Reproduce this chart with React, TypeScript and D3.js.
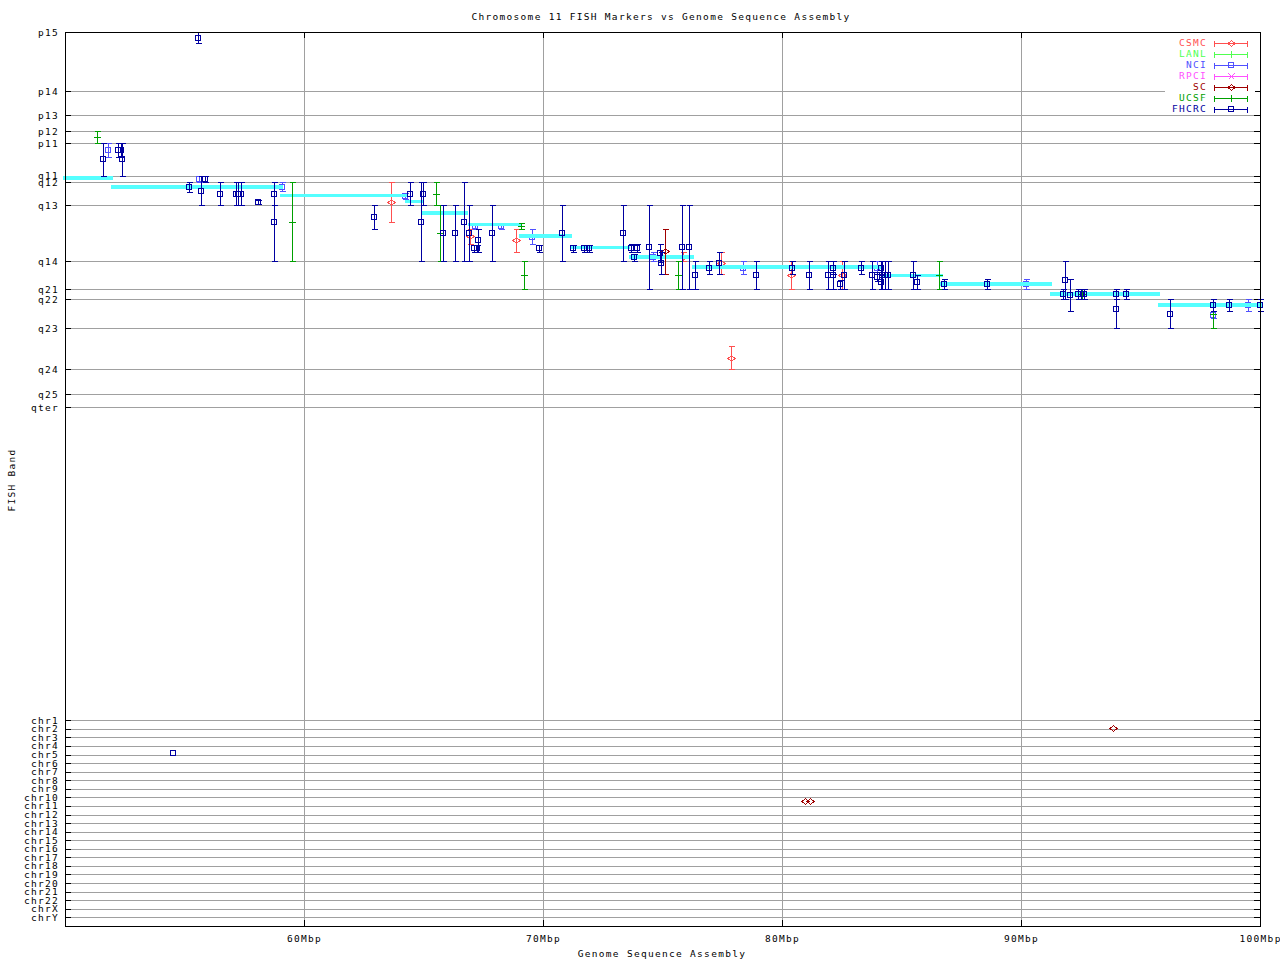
import React from 'react';
import * as d3 from 'd3';

// ---------- data ----------
const sources = ['CSMC', 'LANL', 'NCI', 'RPCI', 'SC', 'UCSF', 'FHCRC'];
const sourceColors = ['#ff5050', '#50ff50', '#5050ff', '#ff50ff', '#a00000', '#00a000', '#0000a0'];
const sourceSymbols = ['diamond', 'plus', 'square', 'cross', 'diamond', 'plus', 'square'];
const drawOrder = ['CSMC', 'LANL', 'NCI', 'RPCI', 'ASSEMBLY', 'SC', 'UCSF', 'FHCRC'];

// cytogenetic band axis (relative band coordinate, pter=0 .. qter=100)
const bandLabels = ['p15', 'p14', 'p13', 'p12', 'p11', 'q11', 'q12', 'q13', 'q14', 'q21', 'q22', 'q23', 'q24', 'q25', 'qter'];
const bandPositions = [0, 15.7, 22.1, 26.4, 29.6, 38.2, 40.0, 46.1, 61.0, 68.5, 71.2, 78.9, 89.8, 96.5, 100];

const chromosomes = ['chr1', 'chr2', 'chr3', 'chr4', 'chr5', 'chr6', 'chr7', 'chr8', 'chr9', 'chr10', 'chr11', 'chr12',
  'chr13', 'chr14', 'chr15', 'chr16', 'chr17', 'chr18', 'chr19', 'chr20', 'chr21', 'chr22', 'chrX', 'chrY'];

const xTicks = [60, 70, 80, 90, 100];

// assembly band spans: [startMbp, endMbp, band coordinate]
const assemblySpans: [number, number, number][] = [
  [49.92, 52.0, 38.85], [51.92, 59.12, 41.2], [59.0, 64.31, 43.5], [64.23, 64.98, 45.17],
  [64.95, 66.85, 48.2], [66.87, 69.07, 51.3], [69.0, 71.2, 54.24], [71.16, 73.64, 57.4],
  [73.6, 76.32, 59.97], [76.23, 84.17, 62.53], [84.17, 86.72, 64.8], [86.6, 91.28, 67.07],
  [91.21, 95.82, 69.79], [95.72, 100.1, 72.77],
];

// band markers: [source, Mbp, band, bandLow, bandHigh]
const csmcMarkers: [string, number, number, number, number][] = [
  ['CSMC', 63.65, 45.33, 40.0, 50.67], ['CSMC', 66.93, 54.32, 52.53, 56.45],
  ['CSMC', 68.88, 55.47, 52.53, 58.59], ['CSMC', 75.87, 59.84, 58.67, 61.0],
  ['CSMC', 77.45, 61.6, 58.67, 64.53], ['CSMC', 77.87, 86.93, 83.73, 89.87],
  ['CSMC', 80.38, 64.8, 61.0, 68.53], ['CSMC', 82.52, 64.8, 61.0, 68.53],
];
const nciMarkers: [string, number, number, number, number][] = [
  ['NCI', 51.81, 31.47, 29.6, 33.33], ['NCI', 55.59, 39.1, 38.2, 40.0],
  ['NCI', 59.07, 41.33, 40.0, 42.32], ['NCI', 64.23, 43.6, 42.77, 44.45],
  ['NCI', 67.17, 51.6, 50.77, 52.53], ['NCI', 68.26, 51.6, 50.77, 52.53],
  ['NCI', 69.55, 54.5, 52.53, 56.45], ['NCI', 74.62, 59.84, 58.67, 61.0],
  ['NCI', 78.38, 62.76, 61.0, 64.53], ['NCI', 83.99, 62.76, 61.0, 64.53],
  ['NCI', 90.22, 67.2, 65.87, 68.53], ['NCI', 98.05, 75.31, 74.32, 76.19],
  ['NCI', 99.51, 72.76, 71.2, 74.32],
];
const scMarkers: [string, number, number, number, number][] = [
  ['SC', 75.09, 58.4, 52.53, 64.53],
];
const ucsfMarkers: [string, number, number, number, number][] = [
  ['UCSF', 51.35, 28.0, 26.4, 29.6], ['UCSF', 59.48, 50.5, 40.0, 61.0],
  ['UCSF', 65.54, 43.07, 40.0, 46.13], ['UCSF', 65.7, 53.55, 46.13, 61.0],
  ['UCSF', 69.07, 51.6, 50.77, 52.53], ['UCSF', 69.22, 64.8, 61.0, 68.53],
  ['UCSF', 75.66, 64.8, 61.0, 68.53], ['UCSF', 86.56, 64.8, 61.0, 68.53],
  ['UCSF', 92.54, 69.8, 68.53, 71.2], ['UCSF', 98.05, 75.07, 71.2, 78.93],
];
const fhcrcMarkers: [string, number, number, number, number][] = [
  ['FHCRC', 51.58, 33.87, 29.6, 38.2], ['FHCRC', 52.23, 31.47, 29.6, 33.33],
  ['FHCRC', 52.36, 31.47, 29.6, 33.33], ['FHCRC', 52.4, 33.87, 29.6, 38.2],
  ['FHCRC', 55.58, 1.44, 0, 2.93], ['FHCRC', 55.2, 41.33, 40.0, 42.67],
  ['FHCRC', 55.7, 42.19, 38.2, 46.13], ['FHCRC', 55.86, 39.1, 38.2, 40.0],
  ['FHCRC', 56.49, 43.07, 40.0, 46.13], ['FHCRC', 57.14, 43.07, 40.0, 46.13],
  ['FHCRC', 57.23, 43.07, 40.0, 46.13], ['FHCRC', 57.38, 43.07, 40.0, 46.13],
  ['FHCRC', 58.09, 45.33, 44.72, 45.87], ['FHCRC', 58.76, 43.07, 40.0, 46.13],
  ['FHCRC', 58.76, 50.5, 40.0, 61.0], ['FHCRC', 62.94, 49.33, 46.13, 52.53],
  ['FHCRC', 64.45, 43.07, 40.0, 46.13], ['FHCRC', 64.91, 50.5, 40.0, 61.0],
  ['FHCRC', 64.99, 43.07, 40.0, 46.13], ['FHCRC', 65.82, 53.55, 46.13, 61.0],
  ['FHCRC', 66.33, 53.55, 46.13, 61.0], ['FHCRC', 66.71, 50.5, 40.0, 61.0],
  ['FHCRC', 66.89, 53.55, 46.13, 61.0], ['FHCRC', 67.11, 57.52, 56.72, 58.51],
  ['FHCRC', 67.23, 57.52, 56.72, 58.51], ['FHCRC', 67.29, 55.47, 52.53, 58.59],
  ['FHCRC', 67.88, 53.55, 46.13, 61.0], ['FHCRC', 69.85, 57.52, 56.72, 58.51],
  ['FHCRC', 70.81, 53.55, 46.13, 61.0], ['FHCRC', 71.27, 57.52, 56.72, 58.51],
  ['FHCRC', 71.72, 57.52, 56.72, 58.51], ['FHCRC', 71.83, 57.52, 56.72, 58.51],
  ['FHCRC', 71.94, 57.52, 56.72, 58.51], ['FHCRC', 73.36, 53.55, 46.13, 61.0],
  ['FHCRC', 73.68, 57.52, 56.53, 58.51], ['FHCRC', 73.82, 60.0, 59.12, 61.0],
  ['FHCRC', 73.95, 57.52, 56.53, 58.51], ['FHCRC', 74.45, 57.33, 46.13, 68.53],
  ['FHCRC', 74.9, 58.85, 56.53, 61.17], ['FHCRC', 74.95, 61.6, 58.67, 64.53],
  ['FHCRC', 75.83, 57.33, 46.13, 68.53], ['FHCRC', 76.12, 57.33, 46.13, 68.53],
  ['FHCRC', 76.37, 64.8, 61.0, 68.53], ['FHCRC', 76.96, 62.76, 61.0, 64.53],
  ['FHCRC', 77.38, 61.6, 58.67, 64.53], ['FHCRC', 78.92, 64.8, 61.0, 68.53],
  ['FHCRC', 80.43, 62.76, 61.0, 64.53], ['FHCRC', 81.14, 64.8, 61.0, 68.53],
  ['FHCRC', 81.94, 64.8, 61.0, 68.53], ['FHCRC', 82.12, 64.8, 61.0, 68.53],
  ['FHCRC', 82.12, 62.76, 61.0, 64.53], ['FHCRC', 82.44, 67.2, 65.97, 68.45],
  ['FHCRC', 82.61, 64.8, 61.0, 68.53], ['FHCRC', 83.29, 62.76, 61.0, 64.53],
  ['FHCRC', 83.75, 64.8, 61.0, 68.53], ['FHCRC', 83.99, 65.2, 64.0, 66.4],
  ['FHCRC', 84.14, 62.76, 61.0, 64.53], ['FHCRC', 84.14, 66.67, 64.8, 68.53],
  ['FHCRC', 84.2, 64.8, 61.0, 68.53], ['FHCRC', 84.31, 64.8, 61.0, 68.53],
  ['FHCRC', 84.42, 64.8, 61.0, 68.53], ['FHCRC', 85.49, 64.8, 61.0, 68.53],
  ['FHCRC', 85.66, 66.67, 64.8, 68.53], ['FHCRC', 86.79, 67.2, 65.87, 68.53],
  ['FHCRC', 88.59, 67.2, 65.87, 68.53], ['FHCRC', 91.77, 69.8, 68.53, 71.2],
  ['FHCRC', 91.85, 66.13, 61.07, 71.2], ['FHCRC', 92.06, 70.13, 65.87, 74.32],
  ['FHCRC', 92.38, 69.8, 68.53, 71.2], ['FHCRC', 92.5, 69.8, 68.53, 71.2],
  ['FHCRC', 92.64, 69.8, 68.53, 71.2], ['FHCRC', 93.99, 69.8, 68.53, 71.2],
  ['FHCRC', 93.99, 73.73, 68.53, 78.93], ['FHCRC', 94.41, 69.8, 68.53, 71.2],
  ['FHCRC', 96.25, 75.07, 71.2, 78.93], ['FHCRC', 98.05, 72.76, 71.2, 74.32],
  ['FHCRC', 98.7, 72.76, 71.2, 74.32], ['FHCRC', 99.99, 72.76, 71.2, 74.32],
];

// markers mapped to other chromosomes: [source, Mbp, chromosome index (0 = chr1)]
const chrMarkers: [string, number, number][] = [
  ['FHCRC', 54.52, 3.85], ['SC', 93.85, 0.9], ['SC', 80.96, 9.42], ['SC', 81.17, 9.42],
];

const titleText = 'Chromosome 11 FISH Markers vs Genome Sequence Assembly';
const xTitle = 'Genome Sequence Assembly';
const yTitle = 'FISH Band';

// ---------- component ----------
const FONT = '"DejaVu Sans Mono", "Liberation Mono", monospace';
const FONT_SIZE = 9.5;
const LETTER_SP = 1.3;
const GRID = '#a0a0a0';
const CYAN = '#55ffff';

const cr = (v: number) => Math.round(v) + 0.5;

function Symbol({ kind, cx, cy, color }: { kind: string; cx: number; cy: number; color: string }) {
  const x0 = Math.round(cx), y0 = Math.round(cy);
  if (kind === 'square') {
    return <rect x={x0 - 2.5} y={y0 - 2.5} width={5} height={5} fill="none" stroke={color} strokeWidth={1} />;
  }
  if (kind === 'diamond') {
    return <path d={`M${x0 - 3},${y0 + 0.5}L${x0 + 0.5},${y0 - 2.5}L${x0 + 4},${y0 + 0.5}L${x0 + 0.5},${y0 + 3.5}Z`} fill="none" stroke={color} strokeWidth={1} />;
  }
  if (kind === 'plus') {
    return <path d={`M${x0 - 3},${y0 + 0.5}H${x0 + 4}M${x0 + 0.5},${y0 - 3}V${y0 + 4}`} stroke={color} strokeWidth={1} />;
  }
  return <path d={`M${x0 - 2.5},${y0 - 2.5}L${x0 + 3.5},${y0 + 3.5}M${x0 - 2.5},${y0 + 3.5}L${x0 + 3.5},${y0 - 2.5}`} stroke={color} strokeWidth={1} />;
}

export default function App() {
  const W = 1280, H = 960;
  const left = 65, right = 1260, top = 32, bottom = 926;
  const x = d3.scaleLinear().domain([50, 100]).range([left, right]);
  const yBand = d3.scaleLinear().domain([0, 100]).range([32.3, 407.3]);
  const yChr = d3.scaleLinear().domain([0, chromosomes.length - 1]).range([720.3, 917.3]);

  const color = (s: string) => sourceColors[sources.indexOf(s)];
  const sym = (s: string) => sourceSymbols[sources.indexOf(s)];

  const allMarkers = [...csmcMarkers, ...nciMarkers, ...scMarkers, ...ucsfMarkers, ...fhcrcMarkers];

  const errorBar = (m: [string, number, number, number, number], i: number) => {
    const [s, mb, b, lo, hi] = m;
    const cx = x(mb);
    const xx = cr(cx);
    const y1 = cr(yBand(lo)), y2 = cr(yBand(hi));
    const c = color(s);
    return (
      <g key={s + i}>
        <path d={`M${xx},${y1}V${y2}M${xx - 3},${y1}H${xx + 3}M${xx - 3},${y2}H${xx + 3}`} stroke={c} strokeWidth={1} fill="none" />
        <Symbol kind={sym(s)} cx={cx} cy={yBand(b)} color={c} />
      </g>
    );
  };

  const layers = drawOrder.map((layer) => {
    if (layer === 'ASSEMBLY') {
      return (
        <g key="assembly">
          {assemblySpans.map(([a, b, band], i) => (
            <line key={i} x1={x(a)} x2={x(b)} y1={yBand(band)} y2={yBand(band)} stroke={CYAN} strokeWidth={3.6} />
          ))}
        </g>
      );
    }
    const ms = allMarkers.filter((m) => m[0] === layer);
    const cms = chrMarkers.filter((m) => m[0] === layer);
    return (
      <g key={layer}>
        {ms.map(errorBar)}
        {cms.map(([s, mb, ci], i) => (
          <Symbol key={'c' + i} kind={sym(s)} cx={x(mb)} cy={yChr(ci)} color={color(s)} />
        ))}
      </g>
    );
  });

  const legendX1 = 1214, legendX2 = 1247, legendTextX = 1207;
  const endX = 59; // right edge for end-anchored labels (letter spacing compensation)

  return (
    <svg width={W} height={H} style={{ position: 'absolute', left: 0, top: 0, background: '#fff' }}
      fontFamily={FONT} fontSize={FONT_SIZE} letterSpacing={LETTER_SP}>
      <rect x={0} y={0} width={W} height={H} fill="#fff" />
      {/* grid */}
      <g shapeRendering="crispEdges">
        {xTicks.filter((t) => t < 100).map((t) => (
          <line key={t} x1={cr(x(t))} x2={cr(x(t))} y1={top} y2={bottom} stroke={GRID} />
        ))}
        {bandPositions.map((p, i) => (
          <line key={'b' + i} x1={left} x2={right} y1={cr(yBand(p))} y2={cr(yBand(p))} stroke={GRID} />
        ))}
        {chromosomes.map((c, i) => (
          <line key={c} x1={left} x2={right} y1={cr(yChr(i))} y2={cr(yChr(i))} stroke={GRID} />
        ))}
      </g>
      {/* ticks */}
      <g shapeRendering="crispEdges" stroke="#000">
        {bandPositions.map((p, i) => (
          <g key={'t' + i}>
            <line x1={left} x2={left + 6} y1={cr(yBand(p))} y2={cr(yBand(p))} />
            <line x1={right - 6} x2={right} y1={cr(yBand(p))} y2={cr(yBand(p))} />
          </g>
        ))}
        {chromosomes.map((c, i) => (
          <g key={'tc' + i}>
            <line x1={left} x2={left + 6} y1={cr(yChr(i))} y2={cr(yChr(i))} />
            <line x1={right - 6} x2={right} y1={cr(yChr(i))} y2={cr(yChr(i))} />
          </g>
        ))}
        {xTicks.map((t) => (
          <g key={'xt' + t}>
            <line x1={cr(x(t))} x2={cr(x(t))} y1={bottom - 6} y2={bottom} />
            <line x1={cr(x(t))} x2={cr(x(t))} y1={top} y2={top + 6} />
          </g>
        ))}
      </g>
      {/* data */}
      <g shapeRendering="crispEdges">{layers}</g>
      {/* frame */}
      <rect x={left + 0.5} y={top + 0.5} width={right - left} height={bottom - top} fill="none" stroke="#000" shapeRendering="crispEdges" />
      {/* axis labels */}
      <g fill="#000">
        {bandLabels.map((l, i) => (
          <text key={l} x={endX} y={yBand(bandPositions[i])} textAnchor="end" dominantBaseline="central">{l}</text>
        ))}
        {chromosomes.map((c, i) => (
          <text key={c} x={endX} y={yChr(i)} textAnchor="end" dominantBaseline="central">{c}</text>
        ))}
        {xTicks.map((t) => (
          <text key={t} x={x(t) + 0.6} y={938} textAnchor="middle" dominantBaseline="central">{`${t}Mbp`}</text>
        ))}
        <text x={661} y={16} textAnchor="middle" dominantBaseline="central">{titleText}</text>
        <text x={662} y={953} textAnchor="middle" dominantBaseline="central">{xTitle}</text>
        <text transform={`translate(11,480) rotate(-90)`} textAnchor="middle" dominantBaseline="central">{yTitle}</text>
      </g>
      {/* legend */}
      <rect x={1165} y={34} width={90} height={79} fill="#fff" />
      <g shapeRendering="crispEdges">
        {sources.map((s, i) => {
          const ly = 42.5 + i * 11;
          const yy = cr(ly);
          const c = sourceColors[i];
          return (
            <g key={s}>
              <text x={legendTextX} y={ly} textAnchor="end" dominantBaseline="central" fill={c}>{s}</text>
              <path d={`M${legendX1 + 0.5},${yy}H${legendX2 + 0.5}M${legendX1 + 0.5},${yy - 3}V${yy + 3}M${legendX2 + 0.5},${yy - 3}V${yy + 3}`} stroke={c} />
              <Symbol kind={sourceSymbols[i]} cx={(legendX1 + legendX2) / 2} cy={ly} color={c} />
            </g>
          );
        })}
      </g>
    </svg>
  );
}
